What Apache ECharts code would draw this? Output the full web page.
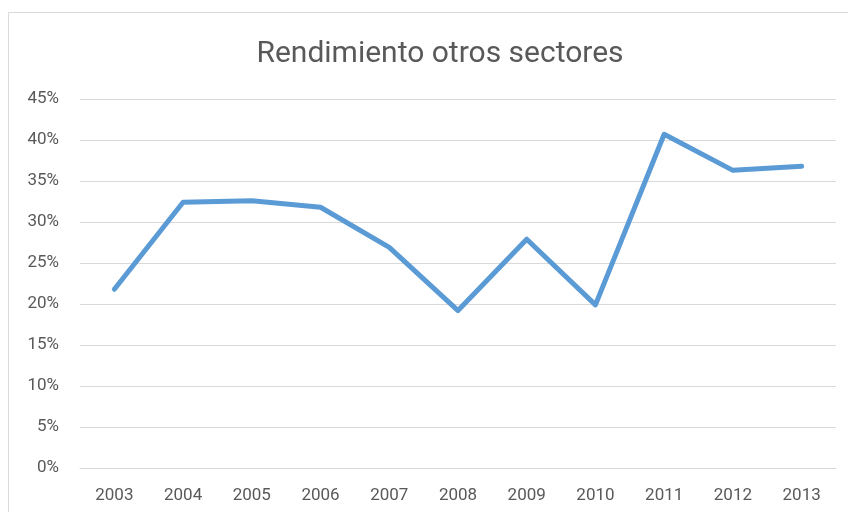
<!DOCTYPE html>
<html>
<head>
<meta charset="utf-8">
<script src="https://cdn.jsdelivr.net/npm/echarts@6/dist/echarts.min.js"></script>
<style>
  html, body { margin: 0; padding: 0; background: #fff; }
  #chart { width: 848px; height: 512px; }
</style>
</head>
<body>
<div id="chart"></div>
<script>
var years = ['2003', '2004', '2005', '2006', '2007', '2008', '2009', '2010', '2011', '2012', '2013'];
var rendimiento = [21.8, 32.4, 32.6, 31.8, 26.9, 19.2, 27.9, 19.9, 40.7, 36.3, 36.8];
var titleText = 'Rendimiento otros sectores';

var chart = echarts.init(document.getElementById('chart'));
var font = 'Roboto, "Liberation Sans", sans-serif';

var option = {
  animation: false,
  title: {
    text: titleText,
    left: 435,
    textAlign: 'center',
    top: 34,
    textStyle: { color: '#595959', fontSize: 30, fontWeight: 'normal', fontFamily: font }
  },
  graphic: [{
    type: 'rect',
    shape: { x: 8.5, y: 12.5, width: 860, height: 520 },
    style: { fill: 'none', stroke: '#d9d9d9', lineWidth: 1 }
  }],
  grid: { left: 80, right: 12, top: 99, bottom: 44 },
  xAxis: {
    type: 'category',
    data: years,
    boundaryGap: true,
    axisLine: { show: true, lineStyle: { color: '#d9d9d9', width: 1 } },
    axisTick: { show: false },
    axisLabel: { color: '#595959', fontSize: 17, fontFamily: font, margin: 19 }
  },
  yAxis: {
    type: 'value',
    min: 0,
    max: 45,
    interval: 5,
    axisLine: { show: false },
    axisTick: { show: false },
    splitLine: { lineStyle: { color: '#d9d9d9', width: 1 } },
    axisLabel: {
      color: '#595959', fontSize: 17, fontFamily: font, margin: 21,
      formatter: '{value}%'
    }
  },
  series: [{
    name: titleText,
    type: 'line',
    data: rendimiento,
    symbol: 'none',
    lineStyle: { color: '#5B9BD5', width: 5, join: 'round', cap: 'round' }
  }]
};
chart.setOption(option);
</script>
</body>
</html>
